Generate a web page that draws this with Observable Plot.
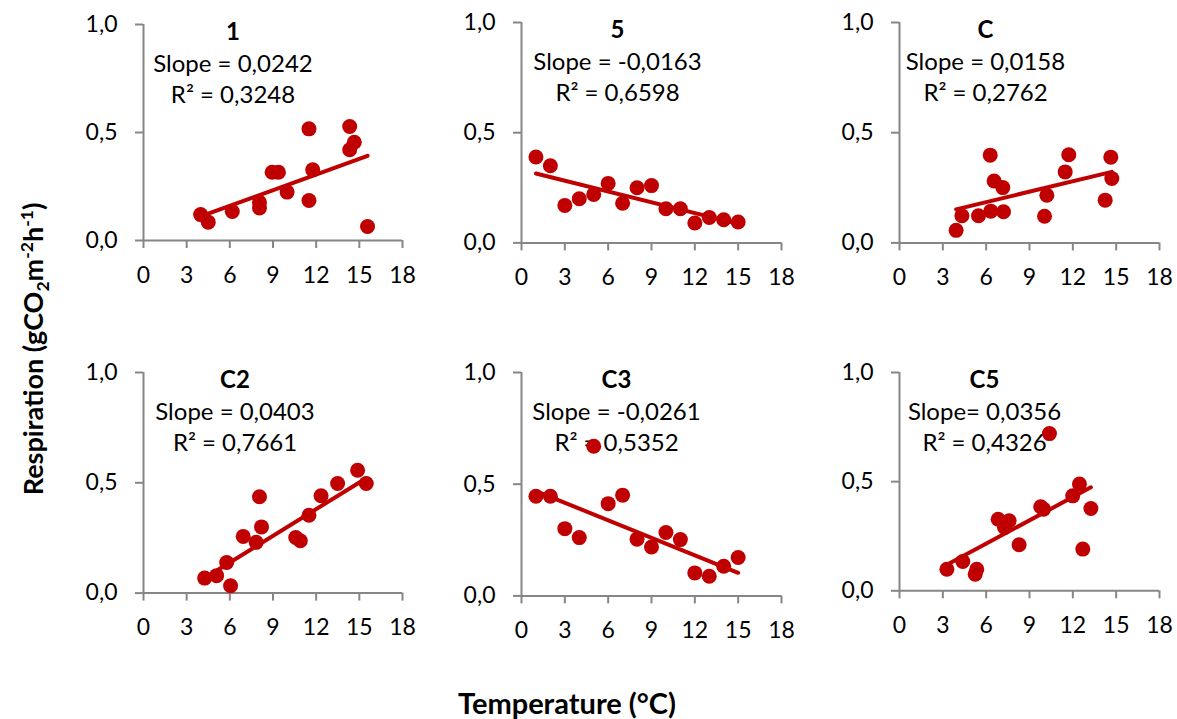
<!DOCTYPE html>
<html><head><meta charset="utf-8">
<script src="https://cdn.jsdelivr.net/npm/d3@7"></script>
<script src="https://cdn.jsdelivr.net/npm/@observablehq/plot@0.6"></script>
<style>
body{margin:0;background:#fff;}
#chart{position:relative;width:1177px;height:719px;font-family:Lato,sans-serif;overflow:hidden;}
.panel{position:absolute;}
#ylab{position:absolute;left:-167px;top:329px;width:400px;height:40px;line-height:40px;text-align:center;transform:rotate(-90deg);font-weight:bold;font-size:27px;white-space:nowrap;color:#000;}
#xlab{position:absolute;left:367px;top:683px;width:400px;height:40px;line-height:40px;text-align:center;font-weight:bold;font-size:29px;white-space:nowrap;color:#000;}
#ylab sub,#ylab sup{font-size:0.65em;line-height:0;}
</style></head>
<body><div id="chart">
<div id="ylab">Respiration (gCO<sub>2</sub>m<sup>-2</sup>h<sup>-1</sup>)</div>
<div id="xlab">Temperature (°C)</div>
</div>
<script>
// ---- data ----
const panelNames = ["1", "5", "C", "C2", "C3", "C5"];
const slopeLabels = ["Slope = 0,0242", "Slope = -0,0163", "Slope = 0,0158", "Slope = 0,0403", "Slope = -0,0261", "Slope= 0,0356"];
const r2Labels = ["R² = 0,3248", "R² = 0,6598", "R² = 0,2762", "R² = 0,7661", "R² = 0,5352", "R² = 0,4326"];
const slopes = [0.0242, -0.0163, 0.0158, 0.0403, -0.0261, 0.0356];
const intercepts = [0.0155, 0.331, 0.0902, -0.103, 0.495, 0.0023];

const temps1 = [3.97, 4.5, 6.17, 8.06, 8.06, 8.94, 9.38, 9.98, 11.5, 11.5, 11.76, 14.33, 14.33, 14.65, 15.57];
const resp1  = [0.12, 0.085, 0.134, 0.177, 0.151, 0.316, 0.316, 0.224, 0.517, 0.185, 0.327, 0.528, 0.42, 0.455, 0.065];
const temps5 = [1, 2, 3, 4, 5, 6, 7, 8, 9, 10, 11, 12, 13, 14, 15];
const resp5  = [0.39, 0.35, 0.17, 0.2, 0.22, 0.27, 0.18, 0.25, 0.26, 0.155, 0.155, 0.09, 0.115, 0.105, 0.095];
const tempsC = [3.92, 4.32, 5.47, 6.28, 6.32, 6.55, 7.15, 7.2, 10.04, 10.2, 11.47, 11.72, 14.24, 14.63, 14.7];
const respC  = [0.057, 0.123, 0.123, 0.398, 0.144, 0.281, 0.251, 0.141, 0.121, 0.216, 0.322, 0.4, 0.194, 0.389, 0.292];
const tempsC2 = [4.25, 5.08, 5.78, 6.05, 6.93, 7.83, 8.06, 8.2, 10.58, 10.9, 11.5, 12.34, 13.49, 14.88, 15.48];
const respC2  = [0.068, 0.079, 0.139, 0.033, 0.257, 0.23, 0.437, 0.3, 0.252, 0.237, 0.353, 0.441, 0.497, 0.557, 0.497];
const tempsC3 = [1, 2, 3, 4, 5, 6, 7, 8, 9, 10, 11, 12, 13, 14, 15];
const respC3  = [0.446, 0.446, 0.301, 0.261, 0.67, 0.413, 0.451, 0.254, 0.219, 0.284, 0.252, 0.103, 0.088, 0.133, 0.172];
const tempsC5 = [3.28, 4.38, 5.24, 5.35, 6.83, 7.27, 7.59, 8.28, 9.78, 9.97, 10.38, 11.99, 12.46, 12.69, 13.25];
const respC5  = [0.099, 0.134, 0.076, 0.099, 0.328, 0.29, 0.321, 0.211, 0.385, 0.374, 0.72, 0.435, 0.489, 0.191, 0.377];

const xTicks = [0, 3, 6, 9, 12, 15, 18];
const yTicks = [0, 0.5, 1];

const temps = [temps1, temps5, tempsC, tempsC2, tempsC3, tempsC5];
const resps = [resp1, resp5, respC, respC2, respC3, respC5];

// ---- layout (plot-area boxes in page pixels) ----
const layout = [
  {x: 143, y: 24, w: 259, h: 216, dx: -40},
  {x: 521, y: 22.3, w: 260, h: 220.4, dx: -34},
  {x: 899.3, y: 22.3, w: 260, h: 220.4, dx: -44},
  {x: 142.7, y: 371.7, w: 259, h: 220.6, dx: -38},
  {x: 521, y: 372.3, w: 260, h: 223.4, dx: -35},
  {x: 899.3, y: 371.7, w: 260, h: 218.3, dx: -45}
];
const RED = "#C00000", AXIS = "#868686";
const ML = 75, MR = 24, MT = 20, MB = 52;
const chart = document.getElementById("chart");

layout.forEach((L, i) => {
  const pts = temps[i].map((t, j) => ({t, r: resps[i][j]}));
  const xr = d3.extent(temps[i]);
  const svg = Plot.plot({
    width: ML + L.w + MR, height: MT + L.h + MB,
    marginLeft: ML, marginRight: MR, marginTop: MT, marginBottom: MB,
    style: {fontFamily: "Lato, sans-serif", fontSize: "23px", color: "black", background: "transparent", overflow: "visible"},
    x: {domain: [0, 18]},
    y: {domain: [0, 1]},
    marks: [
      Plot.ruleY([0], {x1: 0, x2: 18, stroke: AXIS, strokeWidth: 2}),
      Plot.ruleX([0], {y1: 0, y2: 1, stroke: AXIS, strokeWidth: 2}),
      Plot.axisX({ticks: xTicks, tickSize: 8, tickPadding: 18, stroke: AXIS, strokeWidth: 2, fill: "black", fontSize: 23, label: null, tickFormat: d => String(d)}),
      Plot.axisY({ticks: yTicks, tickSize: 8, tickPadding: 18, stroke: AXIS, strokeWidth: 2, fill: "black", fontSize: 23, label: null, tickFormat: d => d.toFixed(1).replace(".", ",")}),
      Plot.text([panelNames[i]], {text: d => d, frameAnchor: "top", dx: L.dx, dy: 8, fontWeight: "bold", fontSize: 24, lineAnchor: "middle", fill: "black"}),
      Plot.text([slopeLabels[i]], {text: d => d, frameAnchor: "top", dx: L.dx, dy: 40, fontSize: 24, lineAnchor: "middle", fill: "black"}),
      Plot.text([r2Labels[i]], {text: d => d, frameAnchor: "top", dx: L.dx, dy: 71, fontSize: 24, lineAnchor: "middle", fill: "black"}),
      Plot.dot(pts, {x: "t", y: "r", r: 7.5, fill: RED, stroke: "none"}),
      Plot.line(xr, {x: d => d, y: d => intercepts[i] + slopes[i] * d, stroke: RED, strokeWidth: 4})
    ]
  });
  svg.classList.add("panel");
  svg.style.left = (L.x - ML) + "px";
  svg.style.top = (L.y - MT) + "px";
  chart.appendChild(svg);
});
</script>
</body></html>
